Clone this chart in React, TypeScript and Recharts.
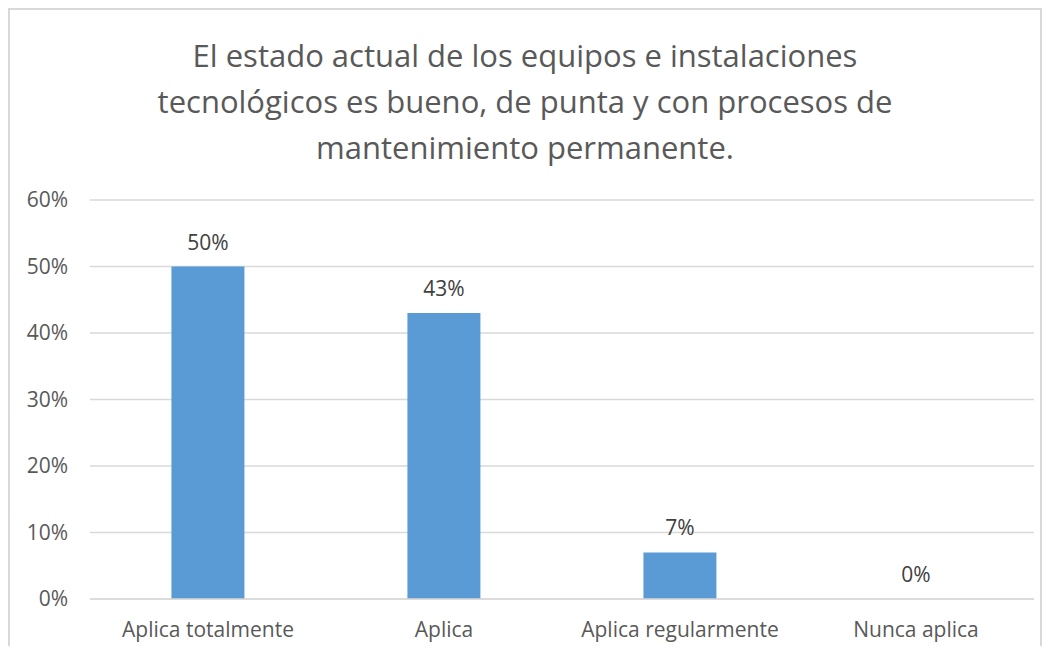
import { Bar, CartesianGrid, ComposedChart, LabelList, Line, XAxis, YAxis } from 'recharts'

const TITLE_LINES = [
  'El estado actual de los equipos e instalaciones',
  'tecnológicos es bueno, de punta y con procesos de',
  'mantenimiento permanente.',
]
const CATEGORIES = ['Aplica totalmente', 'Aplica', 'Aplica regularmente', 'Nunca aplica']
const VALUES = [0.5, 0.43, 0.07, 0]
const Y_TICKS = [0, 0.1, 0.2, 0.3, 0.4, 0.5, 0.6]

const data = CATEGORIES.map((name, i) => ({ name, value: VALUES[i] }))

const FONT = '"Open Sans", sans-serif'
const pct = (v: number) => `${Math.round(v * 100)}%`

export default function App() {
  return (
    <div style={{ marginBottom: -8 }}>
      <div
        style={{
          position: 'relative',
          width: 1030,
          height: 644,
          border: '2px solid #d9d9d9',
          borderBottom: 'none',
          background: '#fff',
          fontFamily: FONT,
        }}
      >
        <div
          style={{
            position: 'absolute',
            top: 22,
            left: 0,
            width: '100%',
            textAlign: 'center',
            fontSize: 31,
            lineHeight: '46px',
            color: '#595959',
          }}
        >
          {TITLE_LINES.map((l) => (
            <div key={l}>{l}</div>
          ))}
        </div>
        <ComposedChart
          width={1030}
          height={644}
          data={data}
          margin={{ top: 190, right: 6, left: 0, bottom: 25 }}
          barCategoryGap="34.5%"
        >
          <CartesianGrid vertical={false} stroke="#d9d9d9" strokeWidth={1.5} />
          <XAxis
            dataKey="name"
            axisLine={{ stroke: '#d9d9d9', strokeWidth: 1.5 }}
            tickLine={false}
            tickMargin={17}
            height={30}
            tick={{ fontSize: 21, fill: '#595959', fontFamily: FONT }}
          />
          <YAxis
            domain={[0, 0.6]}
            ticks={Y_TICKS}
            tickFormatter={pct}
            axisLine={false}
            tickLine={false}
            tickMargin={16}
            width={80}
            tick={{ fontSize: 21, fill: '#595959', fontFamily: FONT }}
          />
          <Bar dataKey="value" fill="#5b9bd5" isAnimationActive={false} />
          <Line
            dataKey="value"
            stroke="none"
            dot={false}
            activeDot={false}
            legendType="none"
            isAnimationActive={false}
          >
            <LabelList
              dataKey="value"
              position="top"
              offset={17}
              formatter={(v: any) => pct(Number(v))}
              style={{ fontSize: 21, fill: '#404040', fontFamily: FONT }}
            />
          </Line>
        </ComposedChart>
      </div>
    </div>
  )
}
